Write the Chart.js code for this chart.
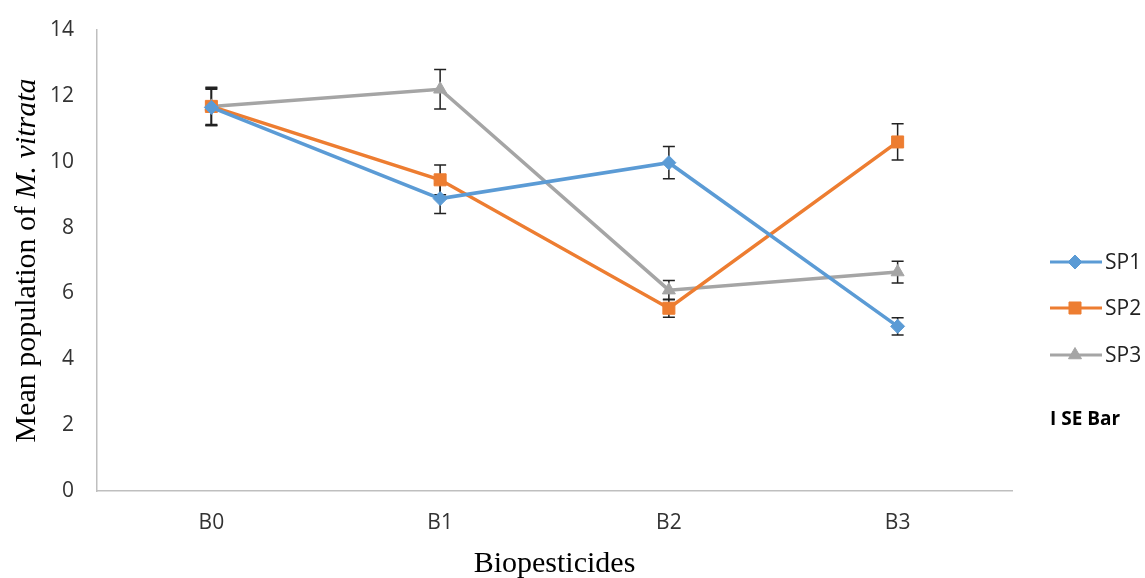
<!DOCTYPE html>
<html>
<head>
<meta charset="utf-8">
<script src="https://cdn.jsdelivr.net/npm/chart.js@4"></script>
<style>
  html, body { margin: 0; padding: 0; background: #fff; }
  #wrap { width: 1145px; height: 578px; }
</style>
</head>
<body>
<div id="wrap"><canvas id="chart"></canvas></div>
<script>
const categories = ['B0', 'B1', 'B2', 'B3'];
const sp1 = [11.65, 8.88, 9.97, 5.0];
const sp2 = [11.68, 9.45, 5.55, 10.6];
const sp3 = [11.68, 12.2, 6.1, 6.65];
// standard error for each point
const sp1Err = [0.55, 0.45, 0.49, 0.26];
const sp2Err = [0.55, 0.45, 0.27, 0.55];
const sp3Err = [0.58, 0.6, 0.29, 0.33];
const yTicks = [0, 2, 4, 6, 8, 10, 12, 14];

const tickFont = { family: 'Open Sans', size: 21 };
const axisGray = '#BFBFBF';

// vertical SE bars with caps, drawn under the markers
const errorBars = {
  id: 'errorBars',
  beforeDatasetsDraw(chart) {
    const ctx = chart.ctx;
    const y = chart.scales.y;
    ctx.save();
    ctx.strokeStyle = '#222';
    ctx.lineWidth = 1.5;
    chart.data.datasets.forEach((ds, i) => {
      const meta = chart.getDatasetMeta(i);
      meta.data.forEach((pt, j) => {
        const v = ds.data[j], e = ds.err[j];
        const top = y.getPixelForValue(v + e);
        const bot = y.getPixelForValue(v - e);
        ctx.beginPath();
        ctx.moveTo(pt.x, top); ctx.lineTo(pt.x, bot);
        ctx.moveTo(pt.x - 6, top); ctx.lineTo(pt.x + 6, top);
        ctx.moveTo(pt.x - 6, bot); ctx.lineTo(pt.x + 6, bot);
        ctx.stroke();
      });
    });
    ctx.restore();
  }
};

// axis titles (mixed roman / italic) and the line+marker legend
const extras = {
  id: 'extras',
  afterDraw(chart) {
    const ctx = chart.ctx;
    const area = chart.chartArea;
    ctx.save();
    ctx.fillStyle = '#000';
    ctx.textBaseline = 'middle';

    // x title
    ctx.font = '30px "Liberation Serif"';
    ctx.textAlign = 'center';
    ctx.fillText('Biopesticides', (area.left + area.right) / 2, 564);

    // y title
    const part1 = 'Mean population of ';
    const part2 = 'M. vitrata';
    ctx.font = '30px "Liberation Serif"';
    const w1 = ctx.measureText(part1).width;
    ctx.font = 'italic 30px "Liberation Serif"';
    const w2 = ctx.measureText(part2).width;
    ctx.translate(27, (area.top + area.bottom) / 2);
    ctx.rotate(-Math.PI / 2);
    ctx.textAlign = 'left';
    const start = -(w1 + w2) / 2;
    ctx.font = '30px "Liberation Serif"';
    ctx.fillText(part1, start, 0);
    ctx.font = 'italic 30px "Liberation Serif"';
    ctx.fillText(part2, start + w1, 0);
    ctx.restore();

    // legend
    ctx.save();
    const rows = [262, 308, 355];
    chart.data.datasets.forEach((ds, i) => {
      const yy = rows[i];
      ctx.strokeStyle = ds.borderColor;
      ctx.lineWidth = 3;
      ctx.beginPath();
      ctx.moveTo(1050, yy); ctx.lineTo(1102, yy);
      ctx.stroke();
      ctx.fillStyle = ds.borderColor;
      ctx.lineWidth = 1;
      Chart.helpers.drawPoint(ctx, {
        pointStyle: ds.pointStyle,
        radius: ds.pointRadius,
        borderWidth: 1
      }, 1075, yy);
      ctx.fillStyle = '#222';
      ctx.font = '21px "Open Sans"';
      ctx.textAlign = 'left';
      ctx.textBaseline = 'middle';
      ctx.fillText(ds.label, 1105, yy + 1);
    });
    ctx.font = 'bold 19px "Open Sans"';
    ctx.fillStyle = '#000';
    ctx.fillText('I SE Bar', 1050, 420);
    ctx.restore();
  }
};

new Chart(document.getElementById('chart'), {
  type: 'line',
  data: {
    labels: categories,
    datasets: [
      { label: 'SP1', data: sp1, err: sp1Err, borderColor: '#5B9BD5', backgroundColor: '#5B9BD5',
        pointStyle: 'rectRot', pointRadius: 7 },
      { label: 'SP2', data: sp2, err: sp2Err, borderColor: '#ED7D31', backgroundColor: '#ED7D31',
        pointStyle: 'rect', pointRadius: 8.5 },
      { label: 'SP3', data: sp3, err: sp3Err, borderColor: '#A5A5A5', backgroundColor: '#A5A5A5',
        pointStyle: 'triangle', pointRadius: 7.5 }
    ].map(d => Object.assign(d, { borderWidth: 3.5, tension: 0, pointBorderWidth: 1, pointHoverRadius: d.pointRadius }))
  },
  options: {
    responsive: true,
    maintainAspectRatio: false,
    animation: false,
    layout: { padding: { top: 30, right: 133, left: 0, bottom: 0 } },
    plugins: { legend: { display: false }, tooltip: { enabled: false } },
    scales: {
      x: {
        offset: true,
        grid: { display: false, drawTicks: false },
        border: { color: axisGray, width: 1.5 },
        ticks: { font: tickFont, color: '#333', padding: 19 },
        afterFit(s) { s.height = 87; s.paddingLeft = 0; s.paddingRight = 0; }
      },
      y: {
        min: 0, max: 14,
        afterBuildTicks(s) { s.ticks = yTicks.map(v => ({ value: v })); },
        grid: { display: false, drawTicks: false },
        border: { color: axisGray, width: 1.5 },
        ticks: { font: tickFont, color: '#333', padding: 23 },
        afterFit(s) { s.width = 97; s.paddingTop = 0; s.paddingBottom = 0; }
      }
    }
  },
  plugins: [errorBars, extras]
});
</script>
</body>
</html>
